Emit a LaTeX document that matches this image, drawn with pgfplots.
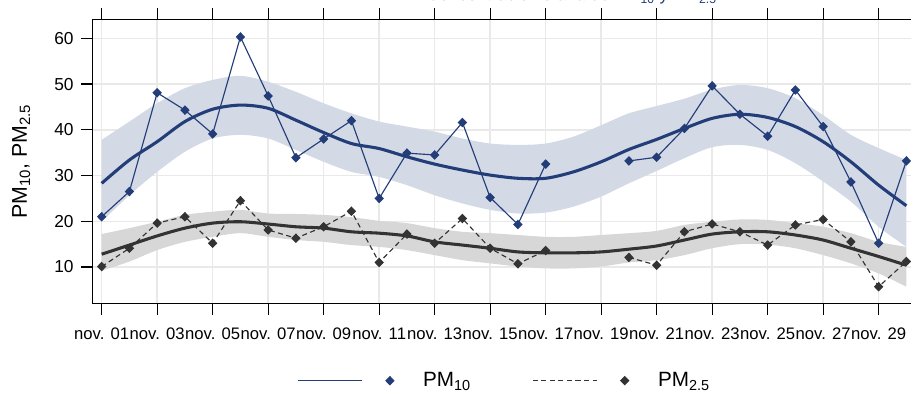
\documentclass[border=0pt]{standalone}
\usepackage{fontspec}
\setmainfont{Liberation Sans}
\usepackage{pgfplots}
\pgfplotsset{compat=1.18}
\usepgfplotslibrary{fillbetween}
\usepackage{pgfplotstable}

\definecolor{navyc}{RGB}{34,61,120}
\definecolor{bandblue}{RGB}{211,217,229}
\definecolor{bandgray}{RGB}{215,215,215}
\definecolor{darkc}{RGB}{51,51,51}
\definecolor{gridc}{RGB}{233,233,233}

\pgfplotsset{
  legsplit/.style={legend image code/.code={\draw[##1, mark=none] (0pt,0pt) -- (48pt,0pt); \draw[##1, solid, only marks] plot coordinates {(69pt,0pt)};}}
}

\pgfplotstableread{
d v
1 21.0
2 26.5
3 48.1
4 44.3
5 39.1
6 60.3
7 47.4
8 33.9
9 38.0
10 42.0
11 25.0
12 34.9
13 34.5
14 41.6
15 25.2
16 19.3
17 32.5
18 nan
19 nan
20 33.2
21 34.0
22 40.3
23 49.6
24 43.4
25 38.6
26 48.7
27 40.7
28 28.6
29 15.2
30 33.2
}\pmten

\pgfplotstableread{
d v
1 10.1
2 14.1
3 19.6
4 21.0
5 15.2
6 24.5
7 18.1
8 16.3
9 18.8
10 22.2
11 11.0
12 17.2
13 15.2
14 20.6
15 14.1
16 10.7
17 13.6
18 nan
19 nan
20 12.1
21 10.4
22 17.7
23 19.4
24 17.7
25 14.8
26 19.2
27 20.4
28 15.5
29 5.7
30 11.2
}\pmtwo

\pgfplotstableread{
d f10 lo10 hi10 f25 lo25 hi25
1 28.3 19.9 37.8 12.8 9.2 17.2
2 33.4 25.7 41.8 14.8 11.2 18.5
3 37.4 30.8 45.8 16.8 13.7 19.9
4 41.8 35.2 49.1 18.5 15.5 21.4
5 44.5 38.1 50.9 19.6 16.6 22.1
6 45.4 38.9 51.8 19.9 17.4 22.5
7 44.7 38.1 50.5 19.4 16.6 21.7
8 42.1 35.6 48.3 18.8 15.9 21.6
9 39.4 33.0 45.8 18.5 15.5 21.4
10 37.0 30.8 43.6 17.7 14.8 20.9
11 35.9 29.7 41.8 17.4 14.4 20.1
12 34.1 27.9 40.7 16.8 13.7 19.6
13 32.5 25.7 39.6 15.5 12.6 18.5
14 31.2 23.9 38.1 14.8 11.5 17.7
15 30.1 22.5 37.0 14.1 10.8 17.4
16 29.4 21.7 36.7 13.3 10.1 17.0
17 29.4 21.9 37.0 13.1 9.7 16.6
18 30.8 23.2 38.5 13.1 9.7 16.6
19 33.0 25.4 41.0 13.3 10.1 17.0
20 35.7 28.3 43.6 13.9 11.0 17.4
21 37.9 31.0 45.2 14.6 11.5 17.9
22 40.3 33.8 46.8 15.9 12.6 19.2
23 42.5 36.2 48.8 17.2 14.1 19.9
24 43.4 36.7 49.8 17.7 15.0 20.4
25 42.7 35.6 49.1 17.7 14.9 20.3
26 40.7 32.7 46.9 17.0 14.1 19.6
27 37.4 28.7 43.2 15.9 12.6 18.8
28 33.0 24.3 38.9 14.1 10.8 17.4
29 27.9 18.8 36.0 12.3 8.6 15.5
30 23.4 14.4 33.4 10.4 5.7 14.4
}\trend

\begin{document}
\begin{tikzpicture}
\begin{axis}[
  at={(69.2pt,68pt)}, anchor=south west,
  scale only axis, width=621pt, height=213pt,
  xmin=0.661, xmax=30.5, ymin=2.06, ymax=64.15,
  xtick={1,3,...,29},
  xticklabels={nov. 01,nov. 03,nov. 05,nov. 07,nov. 09,nov. 11,nov. 13,nov. 15,nov. 17,nov. 19,nov. 21,nov. 23,nov. 25,nov. 27,nov. 29},
  ytick={10,20,...,60},
  tick align=outside, major tick length=8.5pt,
  xtick pos=both, ytick pos=left, xticklabel pos=lower,
  tick style={black, line width=0.9pt},
  axis line style={black, line width=1pt},
  grid=major, grid style={gridc, line width=1.1pt},
  ticklabel style={font=\fontsize{12.5}{14}\selectfont},
  xticklabel style={yshift=-6.5pt},
  yticklabel style={xshift=-2pt, font=\fontsize{13}{15}\selectfont},
  /pgf/number format/assume math mode=true,
  every axis y label/.style={at={(axis description cs:-0.0858,0.5)}, rotate=90, anchor=center},
  ylabel={PM\textsubscript{10}, PM\textsubscript{2.5}},
  ylabel style={font=\fontsize{16}{18}\selectfont},
  unbounded coords=jump,
  legend style={draw=none, fill=none, at={(axis description cs:0.2425,-0.2723)}, anchor=west,
    font=\fontsize{15.5}{17}\selectfont, nodes={inner sep=0pt},
    /tikz/every odd column/.append style={column sep=22pt},
    /tikz/every even column/.append style={column sep=46pt}},
  legend columns=2, legend cell align=left,
]
\addplot[name path=hi10, draw=none, forget plot, smooth] table[x=d,y=hi10]{\trend};
\addplot[name path=lo10, draw=none, forget plot, smooth] table[x=d,y=lo10]{\trend};
\addplot[bandblue, forget plot] fill between[of=hi10 and lo10];
\addplot[name path=hi25, draw=none, forget plot, smooth] table[x=d,y=hi25]{\trend};
\addplot[name path=lo25, draw=none, forget plot, smooth] table[x=d,y=lo25]{\trend};
\addplot[bandgray, forget plot] fill between[of=hi25 and lo25];
\addplot[navyc, line width=2.3pt, smooth, forget plot] table[x=d,y=f10]{\trend};
\addplot[darkc, line width=2.3pt, smooth, forget plot] table[x=d,y=f25]{\trend};
\addplot[legsplit, navyc, line width=0.85pt, mark=diamond*, mark size=3pt, mark options={solid, fill=navyc, xscale=1.3}]
  table[x=d,y=v]{\pmten};
\addlegendentry{PM\textsubscript{10}}
\addplot[legsplit, darkc, line width=0.85pt, dash pattern=on 3.8pt off 2.6pt, mark=diamond*, mark size=3pt, mark options={solid, fill=darkc, xscale=1.3}]
  table[x=d,y=v]{\pmtwo};
\addlegendentry{PM\textsubscript{2.5}}
\end{axis}
\node[anchor=base east, inner sep=0pt, text=navyc, font=\fontsize{13}{15}\selectfont] at (537.75pt,295.2pt) {Concentración diaria de PM\textsubscript{10} y PM\textsubscript{2.5}};
\pgfresetboundingbox
\path[use as bounding box] (0,0) rectangle (683.25pt,295.5pt);
\end{tikzpicture}
\end{document}
